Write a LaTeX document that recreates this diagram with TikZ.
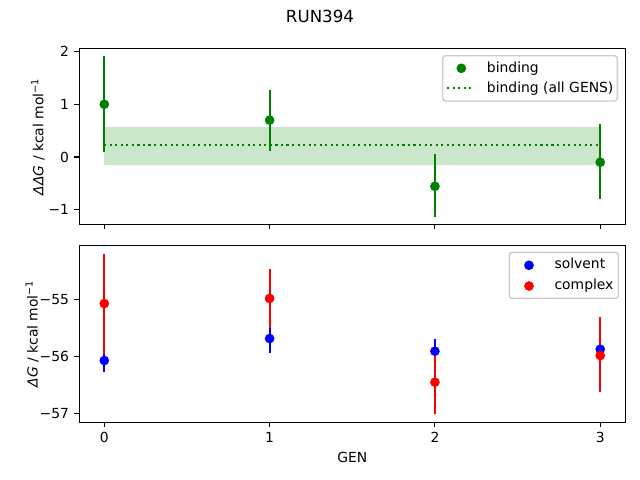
\documentclass[tikz,border=0pt]{standalone}
\usepackage{fontspec}
\setmainfont{DejaVu Sans}
\definecolor{mplgreen}{HTML}{008000}
\definecolor{bandgreen}{HTML}{CCE6CC}
\definecolor{mplblue}{HTML}{0000FF}
\definecolor{mplred}{HTML}{FF0000}
\definecolor{legframe}{HTML}{CCCCCC}
\tikzset{
  axisframe/.style={line width=0.8pt},
  tickmark/.style={line width=0.8pt},
  errbar/.style={line width=1.5pt},
  dotline/.style={line width=1.5pt, dash pattern=on 1.5pt off 2.475pt},
  marker/.style={circle, fill=#1, inner sep=0pt, minimum size=7pt},
  legendbox/.style={draw=legframe, fill=white, line width=1pt, rounded corners=2pt},
  ticklabel/.style={inner sep=0pt, font=\fontsize{10}{12}\selectfont},
}
\begin{document}
\begin{tikzpicture}[x=0.72pt,y=-0.72pt,font=\fontsize{10}{12}\selectfont]
    \useasboundingbox (0,0) rectangle (640,480);
    % title and axis labels
    \node[anchor=north, inner sep=0pt, font=\fontsize{12}{14}\selectfont] (title) at (320,9.6) {RUN394};
    \node[anchor=base, inner sep=0pt] (xlabel) at (352.3,462.7) {GEN};
    \node[rotate=90, anchor=base, inner sep=0pt] (ylabeltop) at (43.3,136.7) {{\itshape ΔΔG} / kcal mol\textsuperscript{−1}};
    \node[rotate=90, anchor=base, inner sep=0pt] (ylabelbot) at (37.7,333.8) {{\itshape ΔG} / kcal mol\textsuperscript{−1}};
    % top panel: binding
    \begin{scope}[shift={(75.1pt,-113.04pt)}, x=119.02pt, y=37.94pt]
        \fill[bandgreen] (0,-0.146) rectangle (3,0.56);
        \draw[dotline, mplgreen] (0,0.228) -- (3,0.228);
        \draw[errbar, mplgreen] (0,0.10) -- (0,1.92);
        \draw[errbar, mplgreen] (1,0.12) -- (1,1.28);
        \draw[errbar, mplgreen] (2,-1.14) -- (2,0.05);
        \draw[errbar, mplgreen] (3,-0.79) -- (3,0.62);
        \node[marker=mplgreen] (bind0) at (0,1.00) {};
        \node[marker=mplgreen] (bind1) at (1,0.70) {};
        \node[marker=mplgreen] (bind2) at (2,-0.556) {};
        \node[marker=mplgreen] (bind3) at (3,-0.10) {};
        \foreach \g in {0,...,3}
            \draw[tickmark] (\g,-1.282) -- ++(0,-3.5pt);
        \foreach \v/\lab in {2/2,1/1,0/0,-1/−1}
            \draw[tickmark] (-0.1512,\v) -- ++(-3.5pt,0) node[ticklabel, left=3.5pt]{\lab};
    \end{scope}
    \draw[axisframe] (79.3,48.3) rectangle (625.3,224.6);
    % legend top
    \draw[legendbox] (442.7,55.7) rectangle (617.3,101);
    \node[marker=mplgreen] (legbind) at (461.3,68.3) {};
    \node[anchor=base west, inner sep=0pt] (legbindtext) at (486.7,72.3) {binding};
    \draw[dotline, mplgreen] (447.3,88.3) -- (474,88.3);
    \node[anchor=base west, inner sep=0pt] (legalltext) at (486.7,92.7) {binding (all GENS)};
    % bottom panel: solvent and complex
    \begin{scope}[shift={(75.1pt,2033.8pt)}, x=119.02pt, y=40.9pt]
        \draw[errbar, mplblue] (0,-56.28) -- (0,-55.93);
        \draw[errbar, mplblue] (1,-55.94) -- (1,-55.44);
        \draw[errbar, mplblue] (2,-56.12) -- (2,-55.70);
        \draw[errbar, mplblue] (3,-56.02) -- (3,-55.73);
        \draw[errbar, mplred] (0,-55.95) -- (0,-54.19);
        \draw[errbar, mplred] (1,-55.50) -- (1,-54.47);
        \draw[errbar, mplred] (2,-57.02) -- (2,-55.89);
        \draw[errbar, mplred] (3,-56.63) -- (3,-55.31);
        \node[marker=mplblue] (solv0) at (0,-56.073) {};
        \node[marker=mplblue] (solv1) at (1,-55.686) {};
        \node[marker=mplblue] (solv2) at (2,-55.909) {};
        \node[marker=mplblue] (solv3) at (3,-55.874) {};
        \node[marker=mplred] (cplx0) at (0,-55.07) {};
        \node[marker=mplred] (cplx1) at (1,-54.98) {};
        \node[marker=mplred] (cplx2) at (2,-56.455) {};
        \node[marker=mplred] (cplx3) at (3,-55.985) {};
        \foreach \g in {0,...,3}
            \draw[tickmark] (\g,-57.16) -- ++(0,-3.5pt) node[ticklabel, below=3.5pt]{\g};
        \foreach \v/\lab in {-55/−55,-56/−56,-57/−57}
            \draw[tickmark] (-0.1512,\v) -- ++(-3.5pt,0) node[ticklabel, left=3.5pt]{\lab};
    \end{scope}
    \draw[axisframe] (79.3,245.3) rectangle (625.3,422.3);
    % legend bottom
    \draw[legendbox] (509.3,252.3) rectangle (618.3,298.3);
    \node[marker=mplblue] (legsolv) at (529,265.3) {};
    \node[anchor=base west, inner sep=0pt] (legsolvtext) at (554.3,268.8) {solvent};
    \node[marker=mplred] (legcplx) at (529,286) {};
    \node[anchor=base west, inner sep=0pt] (legcplxtext) at (554.3,289.5) {complex};
\end{tikzpicture}
\end{document}
